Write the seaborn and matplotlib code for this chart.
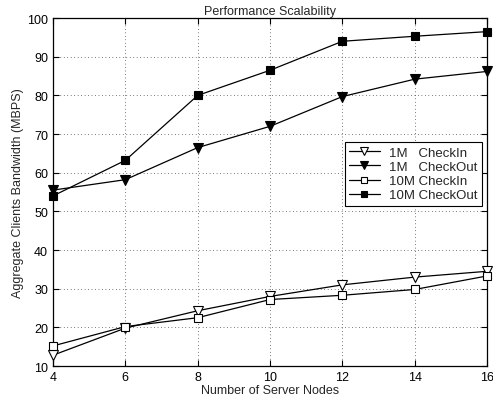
import seaborn as sns
import matplotlib.pyplot as plt
import pandas as pd

nodes = [4, 6, 8, 10, 12, 14, 16]
checkin_1m = [12.8, 19.8, 24.3, 28.0, 31.0, 33.0, 34.5]
checkout_1m = [55.5, 58.2, 66.5, 72.0, 79.7, 84.2, 86.2]
checkin_10m = [15.2, 20.2, 22.5, 27.2, 28.3, 29.8, 33.3]
checkout_10m = [54.0, 63.2, 80.0, 86.5, 94.0, 95.3, 96.5]
labels = ['1M   CheckIn', '1M   CheckOut', '10M CheckIn', '10M CheckOut']

df = pd.DataFrame({'nodes': nodes * 4,
                   'bw': checkin_1m + checkout_1m + checkin_10m + checkout_10m,
                   'series': sum([[l] * len(nodes) for l in labels], [])})

sns.set_style('ticks')
plt.rcParams['font.family'] = ['Liberation Sans', 'DejaVu Sans']
plt.rcParams['font.size'] = 9

fig = plt.figure(figsize=(4.93, 4.06), dpi=100)
ax = fig.add_axes([0.1075, 0.096, 0.8805, 0.857])

styles = {'1M   CheckIn': ('v', 'white'), '1M   CheckOut': ('v', 'black'),
          '10M CheckIn': ('s', 'white'), '10M CheckOut': ('s', 'black')}
for name in labels:
    sub = df[df.series == name]
    m, fc = styles[name]
    sns.lineplot(data=sub, x='nodes', y='bw', ax=ax, color='black', lw=0.9,
                 marker=m, markersize=6.5 if m == 'v' else 5.5,
                 markerfacecolor=fc, markeredgecolor='black', markeredgewidth=0.8,
                 label=name, clip_on=False, zorder=3)

ax.set_xlim(4, 16)
ax.set_ylim(10, 100)
ax.set_xticks(range(4, 17, 2))
ax.set_yticks(range(10, 101, 10))
ax.grid(True, ls=(0, (1, 4)), color='black', lw=0.5)
ax.tick_params(direction='in', top=True, right=True, length=4, width=0.8,
               colors='black', labelsize=9)
for s in ax.spines.values():
    s.set_linewidth(0.9)
    s.set_color('black')
    s.set_zorder(2.5)

ax.set_title('Performance Scalability', fontsize=9, pad=3)
ax.set_xlabel('Number of Server Nodes', fontsize=9, labelpad=1)
ax.set_ylabel('Aggregate Clients Bandwidth (MBPS)', fontsize=9, labelpad=2)

leg = ax.legend(loc='upper right', bbox_to_anchor=(0.988, 0.644), frameon=True,
                fancybox=False, edgecolor='black', framealpha=1,
                fontsize=9.5, handlelength=2.3, borderpad=0.35, labelspacing=0.15,
                handletextpad=0.7, borderaxespad=0, markerscale=0.8)
leg.get_frame().set_linewidth(0.8)
leg.set_zorder(5)

fig.savefig('out.png', dpi=100)
